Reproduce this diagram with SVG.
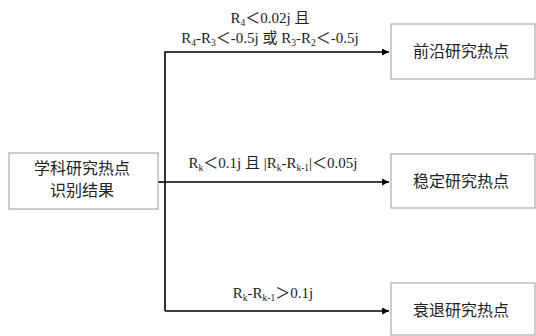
<svg xmlns="http://www.w3.org/2000/svg" width="536" height="336" viewBox="0 0 536 336">
<defs>
<style>
.box{fill:#fff;stroke:#9a9a9a;stroke-width:1}
.t{font-family:"Liberation Serif","Noto Sans CJK SC",serif;font-size:15px;fill:#222;text-anchor:middle}
.n{font-size:16px}
.c{stroke:#000;stroke-width:1.6;fill:none}
.s{font-size:9.5px}
</style>
<marker id="ah" viewBox="0 0 10 10" refX="10" refY="5" markerWidth="7" markerHeight="7" markerUnits="userSpaceOnUse" orient="auto"><path d="M0,0 L10,5 L0,10 z" fill="#000"/></marker>
</defs>
<rect width="536" height="336" fill="#fff"/>
<g id="connectors">
<line class="c" x1="158" y1="182" x2="165" y2="182"/>
<path class="c" d="M165,311 V52 H389" marker-end="url(#ah)"/>
<line class="c" x1="165" y1="182" x2="389" y2="182" marker-end="url(#ah)"/>
<line class="c" x1="165" y1="311" x2="389" y2="311" marker-end="url(#ah)"/>
<text class="t" x="270" y="23">R<tspan class="s" dy="3">4</tspan><tspan dy="-3">＜0.02j 且</tspan></text>
<text class="t" x="270" y="43">R<tspan class="s" dy="3">4</tspan><tspan dy="-3">-R</tspan><tspan class="s" dy="3">3</tspan><tspan dy="-3">＜-0.5j 或 R</tspan><tspan class="s" dy="3">3</tspan><tspan dy="-3">-R</tspan><tspan class="s" dy="3">2</tspan><tspan dy="-3">＜-0.5j</tspan></text>
<text class="t" x="273" y="168">R<tspan class="s" dy="3">k</tspan><tspan dy="-3">＜0.1j 且 |R</tspan><tspan class="s" dy="3">k</tspan><tspan dy="-3">-R</tspan><tspan class="s" dy="3">k-1</tspan><tspan dy="-3">|＜0.05j</tspan></text>
<text class="t" x="273" y="298">R<tspan class="s" dy="3">k</tspan><tspan dy="-3">-R</tspan><tspan class="s" dy="3">k-1</tspan><tspan dy="-3">＞0.1j</tspan></text>
</g>
<g id="source">
<rect class="box" x="9" y="153" width="149" height="56"/>
<text class="t n" x="82" y="174">学科研究热点</text>
<text class="t n" x="82" y="196">识别结果</text>
</g>
<g id="frontier">
<rect class="box" x="391" y="24" width="144" height="55"/>
<text class="t n" x="461" y="57">前沿研究热点</text>
</g>
<g id="stable">
<rect class="box" x="391" y="154" width="144" height="54"/>
<text class="t n" x="461" y="187">稳定研究热点</text>
</g>
<g id="decline">
<rect class="box" x="391" y="283" width="144" height="52"/>
<text class="t n" x="461" y="316">衰退研究热点</text>
</g>
</svg>
